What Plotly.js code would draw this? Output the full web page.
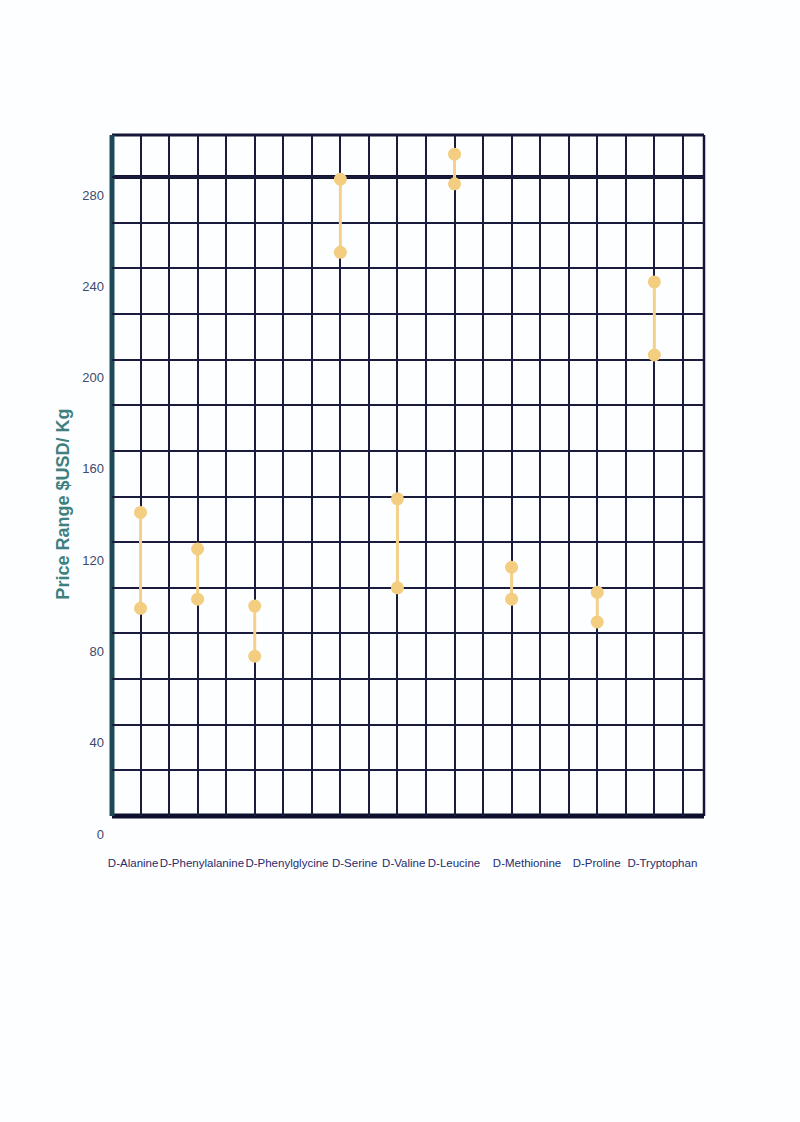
<!DOCTYPE html>
<html>
<head>
<meta charset="utf-8">
<script src="https://cdn.plot.ly/plotly-3.0.1.min.js"></script>
<style>
  html, body { margin: 0; padding: 0; background: #fdfeff; }
  #chart { width: 800px; height: 1122px; }
</style>
</head>
<body>
<div id="chart"></div>
<script>
// ---- data ----
const categories = ["D-Alanine", "D-Phenylalanine", "D-Phenylglycine", "D-Serine", "D-Valine",
                    "D-Leucine", "D-Methionine", "D-Proline", "D-Tryptophan"];
const priceLow  = [91, 95, 70, 247, 100, 277, 95, 85, 202];
const priceHigh = [133, 117, 92, 279, 139, 290, 109, 98, 234];
// column of the grid on which each range is drawn, and where each name is written
const pointSlots = [1, 3, 5, 8, 10, 12, 14, 17, 19];
const labelSlots = [0.74, 3.15, 6.13, 8.5, 10.22, 11.98, 14.54, 16.98, 19.28];
const yTickValues = [0, 40, 80, 120, 160, 200, 240, 280];
const yTitle = "Price Range $USD/ Kg";

// ---- build range traces ----
const lx = [], ly = [];
pointSlots.forEach((s, i) => {
  lx.push(s, s, null);
  ly.push(priceLow[i], priceHigh[i], null);
});
const rangeLines = {
  type: "scatter", mode: "lines", x: lx, y: ly,
  line: { color: "#f4d08a", width: 3 }, hoverinfo: "skip", showlegend: false
};
const dots = {
  type: "scatter", mode: "markers",
  x: pointSlots.concat(pointSlots),
  y: priceLow.concat(priceHigh),
  text: categories.concat(categories),
  marker: { color: "#f3cd80", size: 13, symbol: "circle", line: { width: 0 } },
  showlegend: false
};
// carries the vertical grid (overlay axis, grid drawn beneath all traces)
const gridCarrier = {
  type: "scatter", mode: "markers", x: [null], y: [null],
  xaxis: "x2", yaxis: "y", showlegend: false, hoverinfo: "skip", marker: { opacity: 0 }
};
// carries the y title axis
const titleCarrier = {
  type: "scatter", mode: "markers", x: [null], y: [null],
  xaxis: "x", yaxis: "y3", showlegend: false, hoverinfo: "skip", marker: { opacity: 0 }
};

const xMax = 20.74, yMax = 298.4;
const gridColor = "#1b1b3d";
const narrow = "'Liberation Sans Narrow', 'Arial Narrow', 'Liberation Sans', Arial, sans-serif";

const layout = {
  width: 800, height: 1122,
  paper_bgcolor: "#fdfeff", plot_bgcolor: "rgba(0,0,0,0)",
  margin: { l: 112, r: 96, t: 135, b: 306 },
  showlegend: false,
  xaxis: {
    range: [0, xMax], tickmode: "array", tickvals: labelSlots, ticktext: categories,
    showgrid: false, zeroline: false, showline: false, ticks: "",
    ticklabelstandoff: 38, tickangle: 0,
    tickfont: { family: narrow, size: 11.5, color: "#2a2c6c" }
  },
  xaxis2: {
    overlaying: "x", anchor: "y", side: "bottom", range: [0, xMax],
    dtick: 1, tick0: 0, showticklabels: false, ticks: "",
    showgrid: true, gridcolor: gridColor, gridwidth: 2, zeroline: false, showline: false
  },
  yaxis: {
    range: [0, yMax], tickmode: "array", tickvals: yTickValues,
    ticks: "", showgrid: true, gridcolor: gridColor, gridwidth: 2,
    minor: { dtick: 20, tick0: 0, showgrid: true, gridcolor: gridColor, gridwidth: 2 },
    zeroline: false, showline: false,
    ticklabelshift: 18, ticklabelstandoff: 7,
    tickfont: { family: narrow, size: 13, color: "#3c4a6c" }
  },
  yaxis3: {
    domain: [0, 0.916], anchor: "free", position: 0, side: "left",
    range: [0, 1], showgrid: false, zeroline: false, showline: false,
    showticklabels: false, ticks: "",
    title: {
      text: yTitle, standoff: 36,
      font: { family: "'Liberation Sans', Arial, sans-serif", size: 18, color: "#3f8080", weight: "bold" }
    }
  },
  shapes: [
    // heavy line at 280
    { type: "line", xref: "paper", yref: "y", x0: 0, x1: 1, y0: 280, y1: 280, layer: "between",
      line: { color: "#12122e", width: 4 } },
    // frame
    { type: "line", xref: "paper", yref: "paper", x0: 0, x1: 1, y0: 1, y1: 1, layer: "between",
      line: { color: "#15163a", width: 3 } },
    { type: "line", xref: "paper", yref: "paper", x0: 1, x1: 1, y0: 0, y1: 1, layer: "between",
      line: { color: "#15163a", width: 2.5 } },
    { type: "line", xref: "paper", yref: "paper", x0: 0, x1: 1, y0: 0, y1: 0, layer: "between",
      line: { color: "#0e0f2e", width: 5 } },
    { type: "line", xref: "paper", yref: "paper", x0: 0, x1: 0, y0: 0, y1: 1, layer: "between",
      line: { color: "#1d4a56", width: 5 } }
  ]
};

Plotly.newPlot("chart", [gridCarrier, rangeLines, dots, titleCarrier], layout, { staticPlot: true });
</script>
</body>
</html>
